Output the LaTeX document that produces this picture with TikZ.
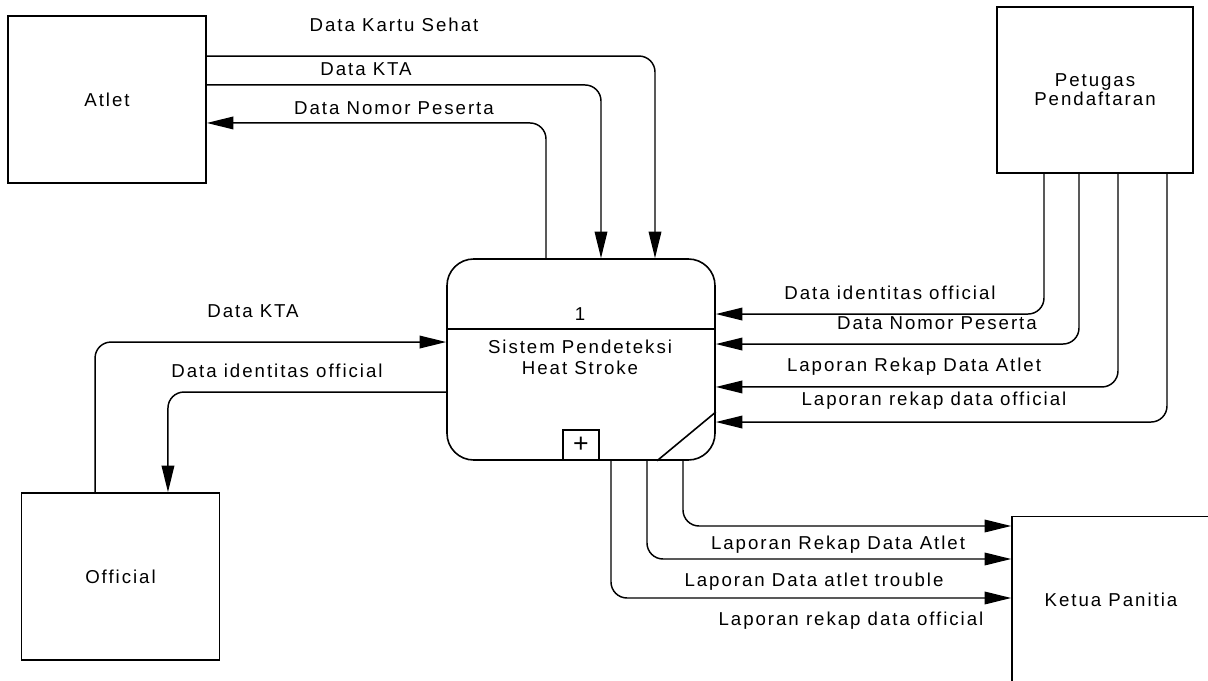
\documentclass[tikz,border=0pt]{standalone}
\usepackage{fontspec}
\setmainfont{Liberation Sans}[LetterSpace=10.5]
\usetikzlibrary{arrows.meta}

\begin{document}
\begin{tikzpicture}[x=0.75pt, y=-0.75pt, font=\fontsize{14pt}{15.5pt}\selectfont,
    entity/.style={draw, line width=1.2pt, minimum width=148.5pt, minimum height=125.25pt, inner sep=0pt, align=center},
    procbox/.style={draw, line width=1.2pt, rounded corners=20pt, minimum width=201pt, minimum height=150.75pt, inner sep=0pt},
    flow/.style={line width=1.1pt, rounded corners=12pt, -{Triangle[length=20pt,width=9.5pt]}},
    lbl/.style={inner sep=0pt}]
    \clip (0,0) rectangle (1208,681);

    % terminators
    \node[entity] (atlet) at (107,99.5) {Atlet};
    \node[entity] (official) at (120.5,576.5) {Official};
    \node[entity, minimum width=147pt, minimum height=124.5pt] (petugas) at (1095,90) {Petugas\\[-1.5pt]Pendaftaran};
    \node[entity] (ketua) at (1111,600) {Ketua Panitia};

    % process
    \node[procbox] (proc) at (581,359.5) {};
    \draw[line width=1.2pt] ([yshift=-53.25pt]proc.north west) -- ([yshift=-53.25pt]proc.north east);
    \node[lbl] (pnum) at (580,314) {1};
    \node[lbl, align=center] (pname) at (580,357) {Sistem Pendeteksi\\Heat Stroke};
    \node[draw, line width=1.2pt, minimum width=27pt, minimum height=22.5pt, inner sep=0pt, anchor=south,
        font=\fontsize{20pt}{20pt}\selectfont] (sub) at (proc.south) {+};
    \draw[line width=1.2pt] ([xshift=57pt]proc.south) -- ([yshift=-39.4pt]proc.east);

    % atlet flows
    \draw[flow] ([yshift=32.6pt]atlet.east) -| ([xshift=55.5pt]proc.north);
    \draw[flow] ([yshift=10.9pt]atlet.east) -| ([xshift=15pt]proc.north);
    \draw[flow] ([xshift=-26.25pt]proc.north) |- ([yshift=-17.6pt]atlet.east);
    \node[lbl] (lbKartu) at (394,25) {Data Kartu Sehat};
    \node[lbl] (lbKtaA) at (366,69) {Data KTA};
    \node[lbl] (lbNomorA) at (394,108) {Data Nomor Peserta};

    % official flows
    \draw[flow] ([xshift=-19.1pt]official.north) |- ([yshift=13.1pt]proc.west);
    \draw[flow] ([yshift=-24.4pt]proc.west) -| ([xshift=35.6pt]official.north);
    \node[lbl] (lbKtaO) at (253,311) {Data KTA};
    \node[lbl] (lbIdentO) at (277,371) {Data identitas official};

    % petugas flows
    \foreach \dx/\dy in {-38.25/34.1, -12/11.6, 17.25/-20.6, 54/-46.9}
        \draw[flow] ([xshift=\dx pt]petugas.south) |- ([yshift=\dy pt]proc.east);
    \node[lbl] (lbIdentP) at (890,293) {Data identitas official};
    \node[lbl] (lbNomorP) at (937,323) {Data Nomor Peserta};
    \node[lbl] (lbRekapP) at (914,367) {Laporan Rekap Data Atlet};
    \node[lbl] (lbOffP) at (934,401) {Laporan rekap data official};

    % ketua flows
    \foreach \dx/\dy in {76.5/55.5, 49.5/30.75, 22.5/1.5}
        \draw[flow] ([xshift=\dx pt]proc.south) |- ([yshift=\dy pt]ketua.west);
    \node[lbl] (lbRekapK) at (838,545) {Laporan Rekap Data Atlet};
    \node[lbl] (lbTrouble) at (814,582) {Laporan Data atlet trouble};
    \node[lbl] (lbOffK) at (851,621) {Laporan rekap data official};
\end{tikzpicture}
\end{document}
